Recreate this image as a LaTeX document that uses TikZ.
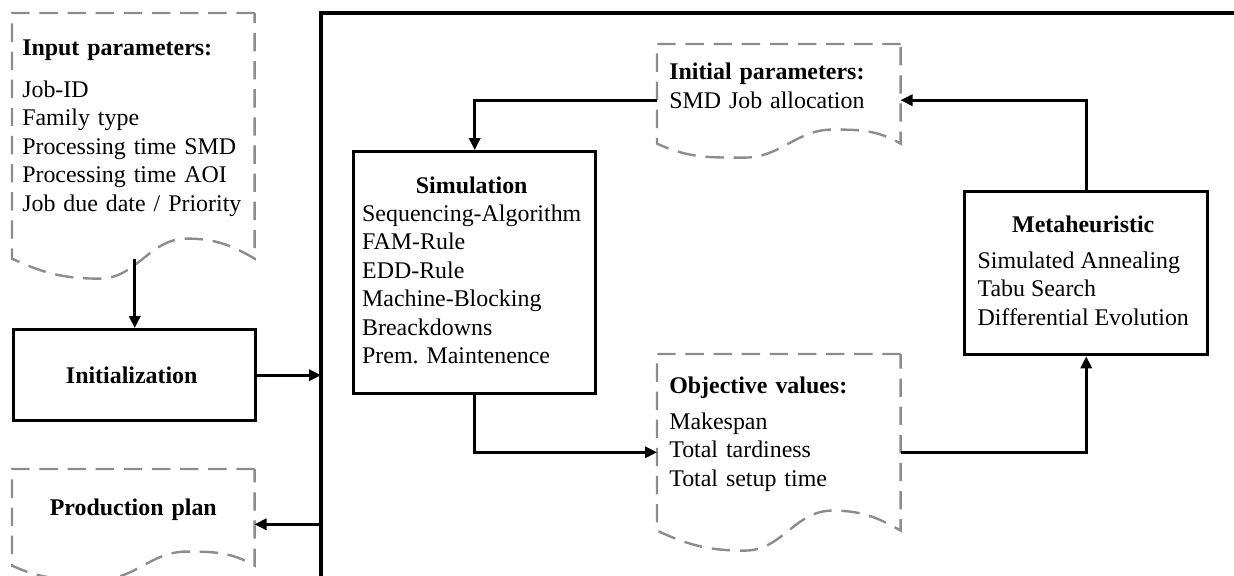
\documentclass[tikz,border=0pt]{standalone}
\usepackage{fontspec}
\setmainfont{Liberation Serif}
\usetikzlibrary{arrows.meta,calc,positioning}

\tikzstyle{block} = [rectangle, draw=black, line width=2.4pt,
                     fill=white, align=center, inner sep=0pt]
\tikzstyle{docnode} = [rectangle, anchor=north west, align=left,
                       inner xsep=0.3cm, inner ysep=0pt]
\tikzstyle{docline} = [draw=black!45, line width=1.7pt,
                       dash pattern=on 13pt off 7pt]
\tikzstyle{flow} = [line width=1.9pt, -{Triangle[length=8.5pt,width=8pt]}]
\tikzstyle{frameline} = [line width=2.4pt]

% dashed document outline with a wavy bottom
\newcommand{\docoutline}[3]{%
  \path (#1.south west) ++(0,-#2) coordinate (#1-bl);
  \path (#1.south east) ++(0,-#2) coordinate (#1-br);
  \draw[docline] (#1.north east) -- (#1.north west) -- (#1-bl)
    to[out=-25,in=180] ($(#1-bl)!0.36!(#1-br)+(0,-#3)$)
    to[out=0,in=180] ($(#1-bl)!0.72!(#1-br)+(0,#3)$)
    to[out=0,in=150] (#1-br) -- cycle;
}

\begin{document}
\begin{tikzpicture}[x=0.025cm, y=0.025cm, font=\fontsize{17}{20.2}\selectfont]

  \useasboundingbox (0,0) rectangle (1234,-576);

  \node (inp) [docnode, inner xsep=0.25cm, text width=5.55cm,
               minimum height=5.725cm] at (12,-13) {
    \textbf{Input parameters:}\\[10pt]
    Job-ID\\
    Family type\\
    Processing time SMD\\
    Processing time AOI\\
    Job due date / Priority
  };
  \docoutline{inp}{0.4cm}{0.5cm}

  \node (init) [block, anchor=north west, minimum width=6.05cm,
                minimum height=2.275cm] at (12,-328) {
    \textbf{Initialization}
  };

  \node (prod) [docnode, align=center, inner xsep=0.25cm, text width=5.55cm,
                minimum height=2cm] at (12,-469) {
    \textbf{Production plan}
  };
  \docoutline{prod}{0.4cm}{0.35cm}

  % the large frame, cut by the page edges
  \coordinate (frame) at (321,-13);
  \coordinate (frameR) at (1234,-13);
  \coordinate (frameB) at (321,-576);
  \draw[frameline] (frameR) -- (frame) -- (frameB);

  \node (sim) [block, anchor=north west, minimum width=6.05cm,
               minimum height=6.05cm] at (352,-150) {
    \begin{tabular}{@{}l@{}}
      \multicolumn{1}{@{}c@{}}{\textbf{Simulation}}\\
      Sequencing-Algorithm\\
      FAM-Rule\\
      EDD-Rule\\
      Machine-Blocking\\
      Breackdowns\\
      Prem. Maintenence
    \end{tabular}
  };

  \node (initp) [docnode, text width=5.475cm, minimum height=2.075cm]
        at (657,-44) {
    \textbf{Initial parameters:}\\
    SMD Job allocation
  };
  \docoutline{initp}{0.4cm}{0.35cm}

  \node (obj) [docnode, text width=5.475cm, minimum height=4cm]
        at (657,-354) {
    \textbf{Objective values:}\\[5pt]
    Makespan\\
    Total tardiness\\
    Total setup time
  };
  \docoutline{obj}{0.4cm}{0.5cm}

  \node (meta) [block, anchor=north west, minimum width=6.075cm,
                minimum height=4.075cm] at (963,-190) {
    \begin{tabular}{@{}l@{}}
      \multicolumn{1}{@{}c@{}}{\textbf{Metaheuristic}}\\[5pt]
      Simulated Annealing\\
      Tabu Search\\
      Differential Evolution
    \end{tabular}
  };

  \draw[flow] (init.north |- inp-bl) -- (init.north);
  \draw[flow] (init.east) -- (init.east -| frame);
  \draw[flow] ([yshift=-0.375cm]prod.east -| frame) -- ([yshift=-0.375cm]prod.east);

  \draw[flow] ([yshift=-0.36cm]initp.west) -| (sim.north);
  \draw[flow] (meta.north) |- ([yshift=-0.36cm]initp.east);
  \draw[flow] (sim.south) |- ([yshift=-0.45cm]obj.west);
  \draw[flow] ([yshift=-0.45cm]obj.east) -| (meta.south);

\end{tikzpicture}
\end{document}
